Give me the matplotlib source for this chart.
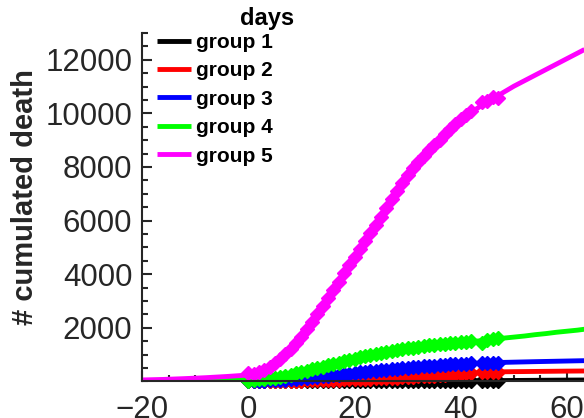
import matplotlib
matplotlib.use("Agg")
import matplotlib.pyplot as plt
from matplotlib.ticker import MultipleLocator

plt.rcParams['font.family'] = ['Liberation Sans', 'DejaVu Sans']

# observed days (day 43 missing)
days = [0, 1, 2, 3, 4, 5, 6, 7, 8, 9, 10, 11, 12, 13, 14, 15, 16, 17, 18, 19,
        20, 21, 22, 23, 24, 25, 26, 27, 28, 29, 30, 31, 32, 33, 34, 35, 36, 37,
        38, 39, 40, 41, 42, 44, 45, 46, 47]

g1_obs = [0, 0, 1, 1, 1, 2, 2, 2, 3, 3, 3, 4, 4, 5, 5, 5, 6, 6, 7, 7,
          8, 8, 9, 9, 10, 10, 11, 12, 12, 13, 14, 14, 15, 16, 16, 17, 18, 18,
          19, 20, 20, 21, 22, 23, 24, 25, 26]
g2_obs = [0, 2, 4, 6, 8, 10, 13, 16, 19, 22, 25, 30, 35, 40, 45, 50, 56, 62, 68, 74,
          80, 87, 94, 101, 108, 115, 124, 132, 140, 152, 165, 175, 185, 195, 205, 215, 228, 241,
          254, 267, 280, 295, 310, 330, 340, 348, 355]
g3_obs = [0, 10, 15, 20, 30, 40, 50, 60, 75, 90, 105, 125, 145, 165, 185, 205, 225, 245, 265, 290,
          310, 330, 350, 370, 390, 410, 430, 450, 470, 490, 510, 525, 540, 555, 570, 585, 600, 615,
          630, 640, 650, 660, 670, 690, 690, 695, 700]
g4_obs = [20, 50, 70, 90, 110, 140, 170, 210, 250, 300, 350, 400, 450, 500, 550, 600, 650, 700, 750, 800,
          850, 900, 940, 980, 1020, 1060, 1100, 1140, 1170, 1200, 1230, 1260, 1290, 1310, 1340, 1360, 1380, 1400,
          1420, 1440, 1460, 1480, 1500, 1420, 1540, 1570, 1600]
g5_obs = [300, 260, 330, 420, 540, 680, 840, 1020, 1220, 1440, 1670, 1940, 2210, 2500, 2810, 3110, 3420, 3720, 4030, 4340,
          4650, 4950, 5250, 5550, 5840, 6150, 6480, 6810, 7110, 7410, 7690, 7960, 8190, 8410, 8620, 8820, 9020, 9220,
          9420, 9610, 9790, 9930, 10080, 10420, 10470, 10620, 10560]

# fitted curves
fit_t = [-20, -16, -12, -8, -4, 0, 2, 4, 6, 8, 10, 12, 14, 16, 18, 20, 22, 24, 26, 28,
         30, 32, 34, 36, 38, 40, 42, 44, 46, 48, 50, 52, 54, 56, 58, 60, 62, 63.3]
g1_fit = [0, 0, 0, 0, 1, 1, 1, 2, 2, 3, 3, 4, 5, 5, 6, 7, 8, 9, 10, 12,
          13, 15, 16, 18, 19, 21, 22, 24, 26, 28, 31, 34, 37, 40, 43, 45, 47, 48]
g2_fit = [0, 0, 0, 1, 2, 3, 5, 8, 12, 18, 25, 35, 45, 56, 68, 80, 94, 108, 124, 142,
          165, 185, 205, 228, 254, 280, 305, 328, 345, 355, 360, 364, 368, 372, 376, 380, 383, 385]
g3_fit = [0, 1, 2, 4, 7, 10, 20, 32, 50, 75, 100, 140, 180, 220, 265, 310, 350, 390, 430, 470,
          505, 535, 565, 592, 620, 645, 665, 682, 696, 706, 715, 724, 733, 741, 749, 757, 765, 770]
g4_fit = [5, 8, 15, 28, 60, 90, 130, 170, 220, 280, 350, 430, 520, 610, 700, 780, 860, 950, 1030, 1110,
          1180, 1240, 1300, 1350, 1400, 1440, 1480, 1520, 1560, 1610, 1650, 1690, 1740, 1780, 1830, 1870, 1910, 1944]
g5_fit = [50, 70, 100, 135, 180, 235, 330, 530, 830, 1200, 1650, 2200, 2800, 3400, 4010, 4630, 5230, 5820, 6460, 7100,
          7680, 8180, 8600, 9000, 9400, 9770, 10050, 10300, 10530, 10780, 11014, 11220, 11426, 11632, 11838, 12044, 12250, 12385]

labels = ['group 1', 'group 2', 'group 3', 'group 4', 'group 5']
colors = ['#000000', '#ff0000', '#0000ff', '#00ff00', '#ff00ff']

fig = plt.figure(figsize=(5.84, 4.18), dpi=100)
ax = fig.add_axes([142 / 584, 1 - 381.3 / 418, 442 / 584, (381.3 - 33) / 418])

fits = [g1_fit, g2_fit, g3_fit, g4_fit, g5_fit]
obs = [g1_obs, g2_obs, g3_obs, g4_obs, g5_obs]
handles = []
for fit, ob, col, lab in zip(fits, obs, colors, labels):
    h, = ax.plot(fit_t, fit, color=col, linewidth=3.5, label=lab, solid_capstyle='butt')
    ax.plot(days, ob, linestyle='none', marker='D', markersize=7,
            color=col, markeredgecolor=col, clip_on=False)
    handles.append(h)

ax.set_xlim(-20, 63.2)
ax.set_ylim(0, 13000)
ax.set_xticks([-20, 0, 20, 40, 60])
ax.set_yticks([2000, 4000, 6000, 8000, 10000, 12000])
ax.xaxis.set_minor_locator(MultipleLocator(5))
ax.yaxis.set_minor_locator(MultipleLocator(500))

for s in ['top', 'right']:
    ax.spines[s].set_visible(False)
for s in ['left', 'bottom']:
    ax.spines[s].set_linewidth(1.5)
    ax.spines[s].set_color('#262626')

ax.tick_params(which='both', direction='in', color='#262626', width=1.5,
               labelsize=22.5, labelcolor='#262626')
ax.tick_params(which='major', length=7.5)
ax.tick_params(which='minor', length=4.5)
ax.tick_params(axis='y', pad=7)
ax.tick_params(axis='x', pad=10)

fig.text(25 / 584, 1 - 197 / 418, '# cumulated death', rotation=90,
         ha='center', va='center', fontsize=21, fontweight='bold', color='#262626')
fig.text(267 / 584, 1 - 18 / 418, 'days', ha='center', va='center',
         fontsize=17, fontweight='bold', color='black')

leg = ax.legend(handles=handles, loc='upper left', bbox_to_anchor=(157 / 584, 1 - 33 / 418),
                bbox_transform=fig.transFigure, frameon=False, prop={'size': 15, 'weight': 'bold'},
                handlelength=1.65, handletextpad=0.2, labelspacing=0.45,
                borderpad=0, borderaxespad=0)

fig.savefig('out.png', dpi=100)
